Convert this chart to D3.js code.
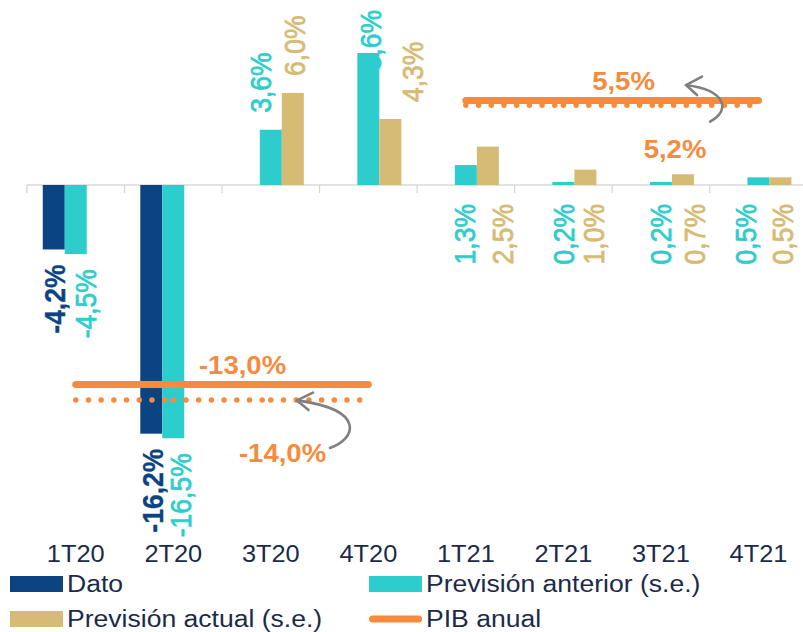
<!DOCTYPE html>
<html>
<head>
<meta charset="utf-8">
<script src="https://cdn.jsdelivr.net/npm/d3@7"></script>
<style>
  html, body { margin: 0; padding: 0; background: #fff; }
  svg { display: block; font-family: "Liberation Sans", Arial, sans-serif; }
</style>
</head>
<body>
<svg id="chart" width="803" height="632"></svg>
<script>
// Quarterly GDP growth (q/q) and annual GDP
const quarters = ["1T20", "2T20", "3T20", "4T20", "1T21", "2T21", "3T21", "4T21"];
const dato = [-4.2, -16.2, null, null, null, null, null, null];
const previsionAnterior = [-4.5, -16.5, 3.6, 8.6, 1.3, 0.2, 0.2, 0.5];
const previsionActual = [null, null, 6.0, 4.3, 2.5, 1.0, 0.7, 0.5];

// Annual GDP: current forecast (solid) and previous forecast (dotted)
const years = ["2020", "2021"];
const yearQuarters = [["1T20", "4T20"], ["1T21", "4T21"]];
const pibAnual = [-13.0, 5.5];
const pibAnterior = [-14.0, 5.2];

const legendLabels = ["Dato", "Previsión anterior (s.e.)", "Previsión actual (s.e.)", "PIB anual"];

// Layout
const colors = { dato: "#0b4481", anterior: "#2ecdcd", actual: "#d6bb74", pib: "#f68b3d", arrow: "#808080", text: "#1c2a4a" };
const labelsUnderAxis = ["1T21", "2T21", "3T21", "4T21"];
const nudge = {
  dato: [1, 1.5, 0, 0, 0, 0, 0, 0],
  anterior: [10, 7, -10, 2, -1, 0.5, 0, -13],
  actual: [0, 0, 2, 22, 15, 8, 12, 2.5]
};
const fmt = v => d3.format(".1f")(v).replace(".", ",").replace("−", "-") + "%";
const stretch = 1.08;
const legendStretch = 1.13;

const svg = d3.select("#chart");

const x = d3.scaleBand().domain(quarters).range([27, 807.2]).padding(0);
const seriesKeys = ["dato", "anterior", "actual"];
const xs = d3.scaleBand().domain(seriesKeys).range([0, x.bandwidth()]).paddingInner(0).paddingOuter(0.716);
const y = d3.scaleLinear().domain([-20, 12]).range([492, 0.8]);
const y0 = y(0);

const seriesData = {
  dato: dato,
  anterior: previsionAnterior,
  actual: previsionActual
};

// Axis line with ticks at category boundaries
const axisG = svg.append("g");
axisG.append("line")
  .attr("x1", x.range()[0]).attr("x2", 803)
  .attr("y1", y0).attr("y2", y0)
  .attr("stroke", "#d9d9d9").attr("stroke-width", 1.5);
axisG.selectAll("line.tick")
  .data(quarters)
  .join("line")
  .attr("class", "tick")
  .attr("x1", d => x(d)).attr("x2", d => x(d))
  .attr("y1", y0).attr("y2", y0 + 8)
  .attr("stroke", "#d4d4d4").attr("stroke-width", 1.2);

// Bars
const barsG = svg.append("g");
seriesKeys.forEach(key => {
  const rows = quarters.map((q, i) => ({ q, i, v: seriesData[key][i] })).filter(d => d.v != null);
  barsG.selectAll(null)
    .data(rows)
    .join("rect")
    .attr("x", d => x(d.q) + xs(key))
    .attr("width", xs.bandwidth())
    .attr("y", d => Math.min(y(d.v), y0))
    .attr("height", d => Math.abs(y(d.v) - y0))
    .attr("fill", colors[key]);
});

// Rotated value labels
const labelsG = svg.append("g");
seriesKeys.forEach(key => {
  const rows = quarters.map((q, i) => ({ q, i, v: seriesData[key][i] })).filter(d => d.v != null);
  rows.forEach(d => {
    const cx = x(d.q) + xs(key) + xs.bandwidth() / 2 + nudge[key][d.i];
    const g = labelsG.append("g");
    const t = g.append("text")
      .attr("dy", "0.36em")
      .attr("fill", colors[key])
      .attr("stroke", colors[key])
      .attr("stroke-width", key === "dato" ? 0.3 : 0.7)
      .attr("font-size", 26.5)
      .attr("font-weight", key === "dato" ? "bold" : "normal")
      .text(fmt(d.v));
    const len = t.node().getComputedTextLength();
    let yPos, anchor;
    if (d.v < 0) {
      yPos = y(d.v) + 15; anchor = "end";
    } else if (labelsUnderAxis.includes(d.q)) {
      yPos = y0 + 19; anchor = "end";
    } else {
      yPos = y(d.v) - 17; anchor = "start";
      if (yPos - len < 10) yPos = 10 + len;
    }
    t.attr("text-anchor", anchor);
    g.attr("transform", `translate(${cx},${yPos}) scale(${stretch},1) rotate(-90)`);
  });
});

// Annual GDP lines: dotted (previous) drawn per quarter segment, then solid (current)
const linesG = svg.append("g");
const centre = q => x(q) + x.bandwidth() / 2;
years.forEach((yr, k) => {
  const [qa, qb] = yearQuarters[k];
  const ia = quarters.indexOf(qa), ib = quarters.indexOf(qb);
  for (let i = ia; i < ib; i++) {
    linesG.append("line")
      .attr("x1", centre(quarters[i])).attr("x2", centre(quarters[i + 1]))
      .attr("y1", y(pibAnterior[k])).attr("y2", y(pibAnterior[k]))
      .attr("stroke", colors.pib).attr("stroke-width", 5.5)
      .attr("stroke-linecap", "round")
      .attr("stroke-dasharray", "0 12.7");
  }
});
years.forEach((yr, k) => {
  const [qa, qb] = yearQuarters[k];
  linesG.append("line")
    .attr("x1", centre(qa)).attr("x2", centre(qb))
    .attr("y1", y(pibAnual[k])).attr("y2", y(pibAnual[k]))
    .attr("stroke", colors.pib).attr("stroke-width", 7)
    .attr("stroke-linecap", "round");
});

// Horizontal text helper with a slight horizontal stretch
function hText(parent, px, py, str, opts) {
  const g = parent.append("g").attr("transform", `translate(${px},${py}) scale(${opts.stretch || stretch},1)`);
  return g.append("text")
    .attr("text-anchor", opts.anchor || "start")
    .attr("font-size", opts.size)
    .attr("font-weight", opts.weight || "normal")
    .attr("fill", opts.fill)
    .text(str);
}

// Annual GDP value annotations
const annG = svg.append("g");
const annSize = 25.5;
hText(annG, 242.5, y(pibAnual[0]) - 11, fmt(pibAnual[0]), { anchor: "middle", size: annSize, weight: "bold", fill: colors.pib });
hText(annG, 282.5, y(pibAnterior[0]) + 62, fmt(pibAnterior[0]), { anchor: "middle", size: annSize, weight: "bold", fill: colors.pib });
hText(annG, 623.5, y(pibAnual[1]) - 10.6, fmt(pibAnual[1]), { anchor: "middle", size: annSize, weight: "bold", fill: colors.pib });
hText(annG, 675, y(pibAnterior[1]) + 53, fmt(pibAnterior[1]), { anchor: "middle", size: annSize, weight: "bold", fill: colors.pib });

// Curved arrows from the previous forecast to the revised one
function arrow(points, head) {
  const [s, c1, c2, e] = points;
  annG.append("path")
    .attr("d", `M${s[0]},${s[1]} C${c1[0]},${c1[1]} ${c2[0]},${c2[1]} ${e[0]},${e[1]}`)
    .attr("fill", "none").attr("stroke", colors.arrow).attr("stroke-width", 2.6)
    .attr("stroke-linecap", "round");
  annG.append("path")
    .attr("d", `M${head[0][0]},${head[0][1]} L${e[0]},${e[1]} L${head[1][0]},${head[1][1]}`)
    .attr("fill", "none").attr("stroke", colors.arrow).attr("stroke-width", 2.6)
    .attr("stroke-linecap", "round").attr("stroke-linejoin", "round");
}
const a1 = y(pibAnterior[0]);
arrow([[330, a1 + 48], [355, a1 + 40], [368, a1 + 10], [297, a1 + 0.5]],
      [[313, a1 - 7.3], [308.5, a1 + 10]]);
const a2 = y(pibAnual[1]);
arrow([[710, a2 + 21], [730, a2 + 11], [728, a2 - 10], [686, a2 - 15.5]],
      [[702, a2 - 24], [697, a2 - 5.5]]);

// Category labels
const catG = svg.append("g");
quarters.forEach(q => {
  hText(catG, centre(q), 562, q, { anchor: "middle", size: 23.5, fill: colors.text });
});

// Legend
const legG = svg.append("g");
const legendItems = [
  { label: legendLabels[0], color: colors.dato, type: "rect", lx: 10, ly: 592 },
  { label: legendLabels[1], color: colors.anterior, type: "rect", lx: 369, ly: 592 },
  { label: legendLabels[2], color: colors.actual, type: "rect", lx: 10, ly: 627 },
  { label: legendLabels[3], color: colors.pib, type: "line", lx: 369, ly: 627 }
];
legendItems.forEach(it => {
  if (it.type === "rect") {
    legG.append("rect").attr("x", it.lx).attr("y", it.ly - 16).attr("width", 53).attr("height", 16).attr("fill", it.color);
  } else {
    legG.append("line").attr("x1", it.lx + 3.5).attr("x2", it.lx + 49.5)
      .attr("y1", it.ly - 8).attr("y2", it.ly - 8)
      .attr("stroke", it.color).attr("stroke-width", 7).attr("stroke-linecap", "round");
  }
  hText(legG, it.lx + 57, it.ly, it.label, { size: 23.5, fill: colors.text, stretch: legendStretch });
});
</script>
</body>
</html>
